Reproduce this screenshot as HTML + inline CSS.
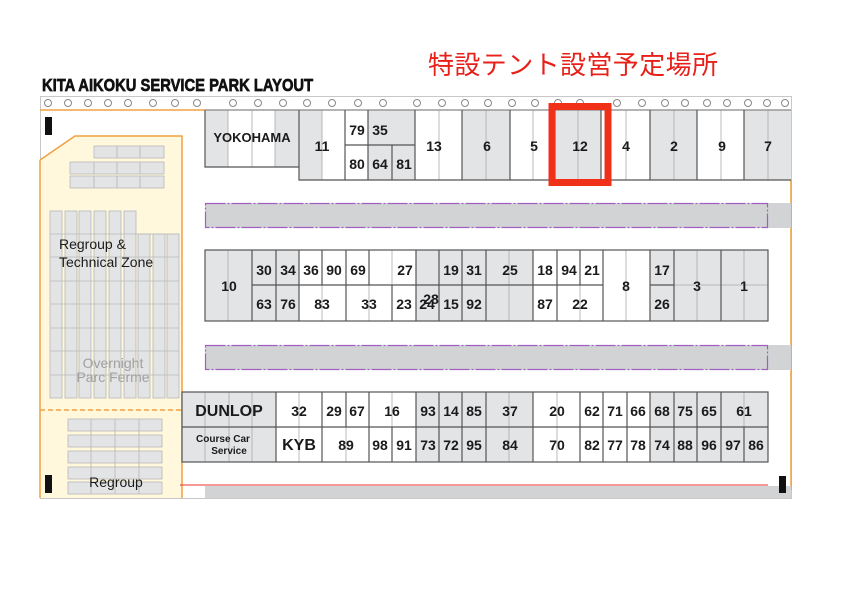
<!DOCTYPE html>
<html><head><meta charset="utf-8"><style>
body{margin:0;background:#fff;}
svg{display:block;}
text{font-family:"Liberation Sans",Arial,sans-serif;font-weight:bold;fill:#1a1a1a;}
</style></head><body>
<svg width="842" height="595" viewBox="0 0 842 595" xmlns="http://www.w3.org/2000/svg">
<!-- titles -->
<text x="42" y="91" font-size="18" transform="translate(42 0) scale(0.82 1) translate(-42 0)" stroke="#111" stroke-width="0.7" style="font-family:'Liberation Sans Narrow','Liberation Sans',sans-serif;font-weight:bold;fill:#111">KITA AIKOKU SERVICE PARK LAYOUT</text>
<text x="428" y="74" font-size="26" textLength="290" style="font-family:'Liberation Sans','Noto Sans CJK JP',sans-serif;font-weight:normal;fill:#e8201a">特設テント設営予定場所</text>

<!-- outer frame -->
<rect x="40.5" y="96.5" width="751" height="402" fill="none" stroke="#c8c8c8" stroke-width="1"/>
<line x1="40" y1="110" x2="205" y2="110" stroke="#f0a040" stroke-width="1.5"/>
<line x1="791" y1="180" x2="791" y2="490" stroke="#f0a040" stroke-width="1.5"/>
<g fill="none" stroke="#888" stroke-width="1">
<circle cx="48" cy="103" r="3.5"/><circle cx="68" cy="103" r="3.5"/><circle cx="88" cy="103" r="3.5"/><circle cx="108" cy="103" r="3.5"/><circle cx="128" cy="103" r="3.5"/><circle cx="153" cy="103" r="3.5"/><circle cx="175" cy="103" r="3.5"/><circle cx="197" cy="103" r="3.5"/><circle cx="233" cy="103" r="3.5"/><circle cx="258" cy="103" r="3.5"/><circle cx="283" cy="103" r="3.5"/><circle cx="307" cy="103" r="3.5"/><circle cx="332" cy="103" r="3.5"/><circle cx="358" cy="103" r="3.5"/><circle cx="383" cy="103" r="3.5"/><circle cx="417" cy="103" r="3.5"/><circle cx="442" cy="103" r="3.5"/><circle cx="465" cy="103" r="3.5"/><circle cx="488" cy="103" r="3.5"/><circle cx="512" cy="103" r="3.5"/><circle cx="535" cy="103" r="3.5"/><circle cx="558" cy="103" r="3.5"/><circle cx="580" cy="103" r="3.5"/><circle cx="617" cy="103" r="3.5"/><circle cx="642" cy="103" r="3.5"/><circle cx="665" cy="103" r="3.5"/><circle cx="685" cy="103" r="3.5"/><circle cx="707" cy="103" r="3.5"/><circle cx="727" cy="103" r="3.5"/><circle cx="748" cy="103" r="3.5"/><circle cx="767" cy="103" r="3.5"/><circle cx="785" cy="103" r="3.5"/>
</g>

<!-- left zone -->
<path d="M40 160 L75 136 L182 136 L182 498 L40 498 Z" fill="#fff8dc" stroke="none"/>
<path d="M40 160 L75 136 L182 136 L182 498" fill="none" stroke="#f0a040" stroke-width="1.5"/>
<line x1="40" y1="160" x2="40" y2="498" stroke="#f0a040" stroke-width="1.5"/>
<line x1="40" y1="410" x2="182" y2="410" stroke="#f0a040" stroke-width="1.5" stroke-dasharray="5,3"/>
<g fill="#e3e4e6" stroke="#b8b8b8" stroke-width="0.8">
<rect x="94" y="146" width="23" height="12"/><rect x="117" y="146" width="23" height="12"/><rect x="140" y="146" width="24" height="12"/>
<rect x="70" y="162" width="24" height="12"/><rect x="94" y="162" width="23" height="12"/><rect x="117" y="162" width="23" height="12"/><rect x="140" y="162" width="24" height="12"/>
<rect x="70" y="176" width="24" height="12"/><rect x="94" y="176" width="23" height="12"/><rect x="117" y="176" width="23" height="12"/><rect x="140" y="176" width="24" height="12"/>
</g>
<g fill="#e3e4e6" stroke="#b8b8b8" stroke-width="0.8">
<rect x="50" y="211" width="12" height="187"/><rect x="65" y="211" width="12" height="187"/><rect x="79" y="211" width="12" height="187"/><rect x="94" y="211" width="12" height="187"/><rect x="109" y="211" width="12" height="187"/><rect x="124" y="211" width="12" height="187"/>
<rect x="138" y="234" width="12" height="164"/><rect x="153" y="234" width="12" height="164"/><rect x="167" y="234" width="12" height="164"/>
</g>
<g stroke="#b8b8b8" stroke-width="0.8">
<line x1="50" y1="234" x2="179" y2="234"/><line x1="50" y1="257" x2="179" y2="257"/><line x1="50" y1="281" x2="179" y2="281"/><line x1="50" y1="304" x2="179" y2="304"/><line x1="50" y1="328" x2="179" y2="328"/><line x1="50" y1="351" x2="179" y2="351"/><line x1="50" y1="375" x2="179" y2="375"/>
</g>
<g fill="#e3e4e6" stroke="#b8b8b8" stroke-width="0.8">
<rect x="68" y="419" width="94" height="12"/><rect x="68" y="435" width="94" height="12"/><rect x="68" y="451" width="94" height="12"/><rect x="68" y="467" width="94" height="12"/><rect x="68" y="482" width="94" height="12"/>
</g>
<g stroke="#b8b8b8" stroke-width="0.8">
<line x1="91" y1="419" x2="91" y2="494"/><line x1="115" y1="419" x2="115" y2="494"/><line x1="139" y1="419" x2="139" y2="494"/>
</g>
<text x="59" y="249" font-size="14" style="font-weight:normal">Regroup &amp;</text>
<text x="59" y="267" font-size="14" style="font-weight:normal">Technical Zone</text>
<text x="113" y="368" font-size="14" text-anchor="middle" style="font-weight:normal;fill:#a0a0a0">Overnight</text>
<text x="113" y="382" font-size="14" text-anchor="middle" style="font-weight:normal;fill:#a0a0a0">Parc Ferme</text>
<text x="116" y="487" font-size="14" text-anchor="middle" style="font-weight:normal">Regroup</text>

<!-- roads -->
<rect x="205" y="203" width="586" height="25" fill="#d2d3d5"/>
<rect x="205.5" y="203.5" width="562" height="24" fill="none" stroke="#a060c0" stroke-width="1.2" stroke-dasharray="20,2,2,2"/>
<rect x="205" y="345" width="586" height="25" fill="#d2d3d5"/>
<rect x="205.5" y="345.5" width="562" height="24" fill="none" stroke="#a060c0" stroke-width="1.2" stroke-dasharray="20,2,2,2"/>
<rect x="205" y="486" width="586" height="12" fill="#d2d3d5"/>
<line x1="180" y1="485" x2="768" y2="485" stroke="#e83030" stroke-width="1"/>

<!-- top row -->
<g fill="#e3e4e6">
<rect x="205" y="110" width="23" height="57"/><rect x="275" y="110" width="24" height="57"/>
<rect x="299" y="110" width="23" height="70"/>
<rect x="368" y="110" width="47" height="35"/><rect x="368" y="145" width="24" height="35"/><rect x="392" y="145" width="23" height="35"/>
<rect x="462" y="110" width="48" height="70"/><rect x="555" y="110" width="46" height="70"/><rect x="650" y="110" width="47" height="70"/><rect x="744" y="110" width="47" height="70"/>
</g>
<g stroke="#aaa" stroke-width="0.8">
<line x1="228" y1="110" x2="228" y2="167"/><line x1="252" y1="110" x2="252" y2="167"/><line x1="275" y1="110" x2="275" y2="167"/>
<line x1="322" y1="110" x2="322" y2="180"/><line x1="439" y1="110" x2="439" y2="180"/><line x1="486" y1="110" x2="486" y2="180"/><line x1="533" y1="110" x2="533" y2="180"/><line x1="578" y1="110" x2="578" y2="180"/><line x1="626" y1="110" x2="626" y2="180"/><line x1="674" y1="110" x2="674" y2="180"/><line x1="721" y1="110" x2="721" y2="180"/><line x1="768" y1="110" x2="768" y2="180"/>
</g>
<g fill="none" stroke="#555" stroke-width="1.2">
<path d="M205 110 V167 H299"/>
<path d="M299 167 V180 H791"/>
<line x1="205" y1="110" x2="791" y2="110" stroke="#888"/>
<line x1="299" y1="110" x2="299" y2="167"/>
<line x1="345" y1="110" x2="345" y2="180"/><line x1="368" y1="110" x2="368" y2="180"/><line x1="392" y1="145" x2="392" y2="180"/><line x1="415" y1="110" x2="415" y2="180"/>
<line x1="345" y1="145" x2="415" y2="145"/>
<line x1="462" y1="110" x2="462" y2="180"/><line x1="510" y1="110" x2="510" y2="180"/><line x1="555" y1="110" x2="555" y2="180"/><line x1="601" y1="110" x2="601" y2="180"/><line x1="650" y1="110" x2="650" y2="180"/><line x1="697" y1="110" x2="697" y2="180"/><line x1="744" y1="110" x2="744" y2="180"/>
</g>
<g font-size="14">
<text x="252" y="142" text-anchor="middle" font-size="13">YOKOHAMA</text>
<text x="322" y="151" text-anchor="middle">11</text>
<text x="357" y="135" text-anchor="middle">79</text><text x="380" y="135" text-anchor="middle">35</text>
<text x="357" y="169" text-anchor="middle">80</text><text x="380" y="169" text-anchor="middle">64</text><text x="404" y="169" text-anchor="middle">81</text>
<text x="434" y="151" text-anchor="middle">13</text><text x="487" y="151" text-anchor="middle">6</text><text x="534" y="151" text-anchor="middle">5</text><text x="580" y="151" text-anchor="middle">12</text><text x="626" y="151" text-anchor="middle">4</text><text x="674" y="151" text-anchor="middle">2</text><text x="722" y="151" text-anchor="middle">9</text><text x="768" y="151" text-anchor="middle">7</text>
</g>
<rect x="552" y="106.5" width="56" height="76" fill="none" stroke="#f03018" stroke-width="7"/>

<!-- middle row -->
<g fill="#e3e4e6">
<rect x="205" y="250" width="47" height="71"/><rect x="252" y="250" width="47" height="71"/>
<rect x="416" y="250" width="23" height="71"/><rect x="439" y="250" width="94" height="71"/>
<rect x="650" y="250" width="118" height="71"/>
</g>
<g stroke="#aaa" stroke-width="0.8">
<line x1="228" y1="250" x2="228" y2="321"/><line x1="322" y1="285" x2="322" y2="321"/><line x1="369" y1="285" x2="369" y2="321"/><line x1="392" y1="250" x2="392" y2="285"/><line x1="509" y1="250" x2="509" y2="321"/><line x1="626" y1="250" x2="626" y2="321"/><line x1="697" y1="250" x2="697" y2="321"/><line x1="744" y1="250" x2="744" y2="321"/><line x1="580" y1="285" x2="580" y2="321"/><line x1="674" y1="285" x2="768" y2="285"/>
</g>
<g fill="none" stroke="#555" stroke-width="1.2">
<rect x="205" y="250" width="563" height="71"/>
<line x1="252" y1="285" x2="603" y2="285"/><line x1="650" y1="285" x2="674" y2="285"/>
<line x1="252" y1="250" x2="252" y2="321"/><line x1="276" y1="250" x2="276" y2="321"/><line x1="299" y1="250" x2="299" y2="321"/><line x1="322" y1="250" x2="322" y2="285"/><line x1="346" y1="250" x2="346" y2="321"/><line x1="369" y1="250" x2="369" y2="285"/><line x1="392" y1="285" x2="392" y2="321"/><line x1="416" y1="250" x2="416" y2="321"/><line x1="439" y1="250" x2="439" y2="321"/><line x1="462" y1="250" x2="462" y2="321"/><line x1="486" y1="250" x2="486" y2="321"/><line x1="533" y1="250" x2="533" y2="321"/><line x1="557" y1="250" x2="557" y2="321"/><line x1="580" y1="250" x2="580" y2="285"/><line x1="603" y1="250" x2="603" y2="321"/><line x1="650" y1="250" x2="650" y2="321"/><line x1="674" y1="250" x2="674" y2="321"/><line x1="721" y1="250" x2="721" y2="321"/>
</g>
<g font-size="14">
<text x="229" y="291" text-anchor="middle">10</text>
<text x="264" y="275" text-anchor="middle">30</text><text x="288" y="275" text-anchor="middle">34</text><text x="311" y="275" text-anchor="middle">36</text><text x="334" y="275" text-anchor="middle">90</text><text x="358" y="275" text-anchor="middle">69</text><text x="405" y="275" text-anchor="middle">27</text><text x="451" y="275" text-anchor="middle">19</text><text x="474" y="275" text-anchor="middle">31</text><text x="510" y="275" text-anchor="middle">25</text><text x="545" y="275" text-anchor="middle">18</text><text x="569" y="275" text-anchor="middle">94</text><text x="592" y="275" text-anchor="middle">21</text>
<text x="264" y="309" text-anchor="middle">63</text><text x="288" y="309" text-anchor="middle">76</text><text x="322" y="309" text-anchor="middle">83</text><text x="369" y="309" text-anchor="middle">33</text><text x="404" y="309" text-anchor="middle">23</text><text x="427" y="309" text-anchor="middle">24</text><text x="431" y="304" text-anchor="middle">28</text><text x="451" y="309" text-anchor="middle">15</text><text x="474" y="309" text-anchor="middle">92</text><text x="545" y="309" text-anchor="middle">87</text><text x="580" y="309" text-anchor="middle">22</text>
<text x="626" y="291" text-anchor="middle">8</text><text x="662" y="275" text-anchor="middle">17</text><text x="662" y="309" text-anchor="middle">26</text><text x="697" y="291" text-anchor="middle">3</text><text x="744" y="291" text-anchor="middle">1</text>
</g>

<!-- bottom row -->
<g fill="#e3e4e6">
<rect x="182" y="392" width="94" height="70"/>
<rect x="416" y="392" width="70" height="70"/><rect x="486" y="392" width="47" height="70"/>
<rect x="650" y="392" width="118" height="70"/>
</g>
<g stroke="#aaa" stroke-width="0.8">
<line x1="205" y1="392" x2="205" y2="462"/><line x1="229" y1="392" x2="229" y2="462"/><line x1="252" y1="392" x2="252" y2="462"/><line x1="299" y1="392" x2="299" y2="462"/><line x1="346" y1="427" x2="346" y2="462"/><line x1="392" y1="392" x2="392" y2="427"/><line x1="509" y1="392" x2="509" y2="462"/><line x1="557" y1="392" x2="557" y2="462"/><line x1="744" y1="392" x2="744" y2="427"/>
</g>
<g fill="none" stroke="#555" stroke-width="1.2">
<rect x="182" y="392" width="586" height="70"/>
<line x1="182" y1="427" x2="768" y2="427"/>
<line x1="276" y1="392" x2="276" y2="462"/><line x1="322" y1="392" x2="322" y2="462"/><line x1="346" y1="392" x2="346" y2="427"/><line x1="369" y1="392" x2="369" y2="462"/><line x1="392" y1="427" x2="392" y2="462"/><line x1="416" y1="392" x2="416" y2="462"/><line x1="439" y1="392" x2="439" y2="462"/><line x1="462" y1="392" x2="462" y2="462"/><line x1="486" y1="392" x2="486" y2="462"/><line x1="533" y1="392" x2="533" y2="462"/><line x1="580" y1="392" x2="580" y2="462"/><line x1="603" y1="392" x2="603" y2="462"/><line x1="627" y1="392" x2="627" y2="462"/><line x1="650" y1="392" x2="650" y2="462"/><line x1="674" y1="392" x2="674" y2="462"/><line x1="697" y1="392" x2="697" y2="462"/><line x1="721" y1="392" x2="721" y2="462"/><line x1="744" y1="427" x2="744" y2="462"/>
</g>
<g font-size="14">
<text x="229" y="416" text-anchor="middle" font-size="16">DUNLOP</text>
<text x="223" y="442" text-anchor="middle" font-size="10">Course Car</text><text x="229" y="454" text-anchor="middle" font-size="10">Service</text>
<text x="299" y="416" text-anchor="middle">32</text><text x="299" y="450" text-anchor="middle" font-size="16">KYB</text>
<text x="334" y="416" text-anchor="middle">29</text><text x="357" y="416" text-anchor="middle">67</text><text x="346" y="450" text-anchor="middle">89</text>
<text x="392" y="416" text-anchor="middle">16</text><text x="380" y="450" text-anchor="middle">98</text><text x="404" y="450" text-anchor="middle">91</text>
<text x="428" y="416" text-anchor="middle">93</text><text x="451" y="416" text-anchor="middle">14</text><text x="474" y="416" text-anchor="middle">85</text><text x="510" y="416" text-anchor="middle">37</text><text x="557" y="416" text-anchor="middle">20</text>
<text x="428" y="450" text-anchor="middle">73</text><text x="451" y="450" text-anchor="middle">72</text><text x="474" y="450" text-anchor="middle">95</text><text x="510" y="450" text-anchor="middle">84</text><text x="557" y="450" text-anchor="middle">70</text>
<text x="592" y="416" text-anchor="middle">62</text><text x="615" y="416" text-anchor="middle">71</text><text x="638" y="416" text-anchor="middle">66</text><text x="662" y="416" text-anchor="middle">68</text><text x="685" y="416" text-anchor="middle">75</text><text x="709" y="416" text-anchor="middle">65</text><text x="744" y="416" text-anchor="middle">61</text>
<text x="592" y="450" text-anchor="middle">82</text><text x="615" y="450" text-anchor="middle">77</text><text x="638" y="450" text-anchor="middle">78</text><text x="662" y="450" text-anchor="middle">74</text><text x="685" y="450" text-anchor="middle">88</text><text x="709" y="450" text-anchor="middle">96</text><text x="733" y="450" text-anchor="middle">97</text><text x="756" y="450" text-anchor="middle">86</text>
</g>

<!-- markers -->
<rect x="45" y="117" width="7" height="18" fill="#111"/>
<rect x="45" y="475" width="7" height="18" fill="#111"/>
<rect x="779" y="476" width="7" height="17" fill="#111"/>
</svg>
</body></html>
